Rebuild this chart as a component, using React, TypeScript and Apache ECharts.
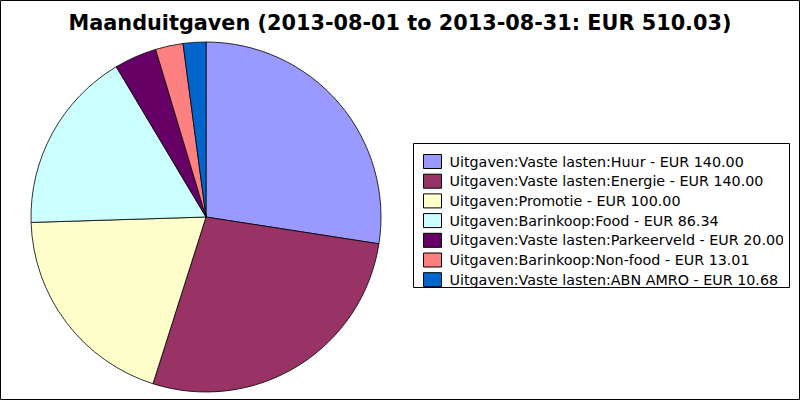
import React, { useEffect, useRef } from "react";
import * as echarts from "echarts";

const categories = [
  "Uitgaven:Vaste lasten:Huur",
  "Uitgaven:Vaste lasten:Energie",
  "Uitgaven:Promotie",
  "Uitgaven:Barinkoop:Food",
  "Uitgaven:Vaste lasten:Parkeerveld",
  "Uitgaven:Barinkoop:Non-food",
  "Uitgaven:Vaste lasten:ABN AMRO",
];
const values = [140.0, 140.0, 100.0, 86.34, 20.0, 13.01, 10.68];
const colors = ["#9999ff", "#993366", "#ffffcc", "#ccffff", "#660066", "#ff8080", "#0066cc"];
const titleText = "Maanduitgaven (2013-08-01 to 2013-08-31: EUR 510.03)";

export default function App() {
  const ref = useRef<HTMLDivElement>(null);
  useEffect(() => {
    document.body.style.margin = "0";
    const chart = echarts.init(ref.current!, null, { renderer: "svg" });
    const valueMap: Record<string, number> = {};
    categories.forEach((c, i) => (valueMap[c] = values[i]));
    chart.setOption({
      animation: false,
      backgroundColor: "#ffffff",
      color: colors,
      title: {
        text: titleText,
        left: "center",
        top: 7,
        textStyle: { fontFamily: "DejaVu Sans", fontWeight: "bold", fontSize: 20.8, color: "#000" },
      },
      legend: {
        orient: "vertical",
        left: 423,
        top: 154,
        padding: 0,
        itemWidth: 18,
        itemHeight: 14,
        itemGap: 4.7,
        icon: "rect",
        selectedMode: false,
        itemStyle: { borderColor: "#000", borderWidth: 1 },
        textStyle: {
          fontFamily: "DejaVu Sans",
          fontSize: 14.3,
          color: "#000",
          lineHeight: 14,
          padding: [0, 0, 0, 3],
        },
        formatter: (name: string) => `${name} - EUR ${valueMap[name].toFixed(2)}`,
        data: categories,
      },
      graphic: [
        {
          type: "rect",
          shape: { x: 0.5, y: 0.5, width: 799, height: 399 },
          style: { fill: "none", stroke: "#000", lineWidth: 1 },
          silent: true,
        },
        {
          type: "rect",
          shape: { x: 783, y: 144, width: 6, height: 143 },
          style: { fill: "#fff" },
          silent: true,
          z: 20,
        },
        {
          type: "rect",
          shape: { x: 413.5, y: 143.5, width: 376, height: 144 },
          style: { fill: "none", stroke: "#000", lineWidth: 1 },
          silent: true,
          z: 21,
        },
      ],
      series: [
        {
          type: "pie",
          center: [206, 217],
          radius: 175,
          startAngle: 90,
          clockwise: true,
          label: { show: false },
          labelLine: { show: false },
          emphasis: { disabled: true },
          itemStyle: { borderColor: "#000", borderWidth: 0.8 },
          data: categories.map((c, i) => ({ name: c, value: values[i] })),
        },
      ],
    });
    return () => chart.dispose();
  }, []);
  return <div ref={ref} style={{ width: 800, height: 400 }} />;
}
